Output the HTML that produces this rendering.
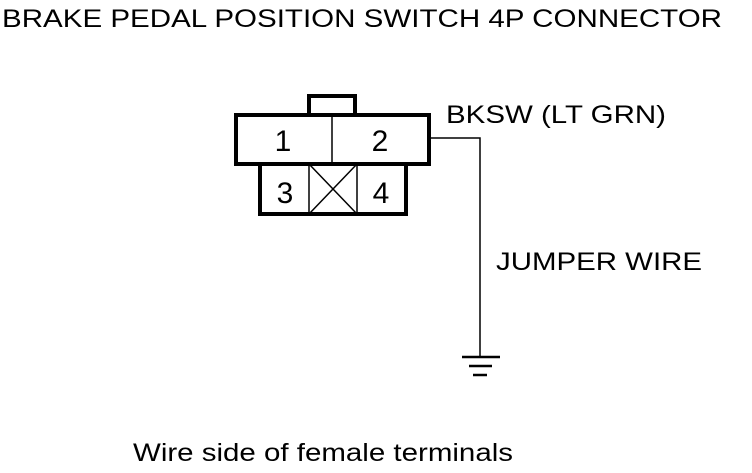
<!DOCTYPE html>
<html><head><style>
body{margin:0;background:#fff}
svg text{font-family:"Liberation Sans",sans-serif;fill:#000}
</style></head><body>
<svg width="752" height="468" viewBox="0 0 752 468" xmlns="http://www.w3.org/2000/svg">
<text x="2" y="27" font-size="25" textLength="720" lengthAdjust="spacingAndGlyphs">BRAKE PEDAL POSITION SWITCH 4P CONNECTOR</text>
<g fill="none" stroke="#000">
<rect x="309" y="96" width="46" height="19" stroke-width="4"/>
<rect x="236" y="115" width="193" height="49" stroke-width="4" fill="#fff"/>
<line x1="332" y1="115" x2="332" y2="164" stroke-width="1.5"/>
<path d="M260 164 V214 H406 V164" stroke-width="4"/>
<line x1="236" y1="164" x2="429" y2="164" stroke-width="1.5"/>
<line x1="309" y1="164" x2="309" y2="214" stroke-width="1.5"/>
<line x1="357" y1="164" x2="357" y2="214" stroke-width="1.5"/>
<line x1="309" y1="164" x2="357" y2="214" stroke-width="1.5"/>
<line x1="357" y1="164" x2="309" y2="214" stroke-width="1.5"/>
<path d="M429 138 H480 V357" stroke-width="1.5"/>
<line x1="462" y1="357" x2="500" y2="357" stroke-width="2.5"/>
<line x1="469" y1="366" x2="492" y2="366" stroke-width="2.5"/>
<line x1="473" y1="375" x2="487" y2="375" stroke-width="2.5"/>
</g>
<text x="283" y="151" font-size="30" text-anchor="middle" font-weight="300">1</text>
<text x="380" y="151" font-size="30" text-anchor="middle">2</text>
<text x="285" y="203" font-size="30" text-anchor="middle">3</text>
<text x="381" y="203" font-size="30" text-anchor="middle">4</text>
<text x="446" y="123" font-size="25" textLength="220" lengthAdjust="spacingAndGlyphs">BKSW (LT GRN)</text>
<text x="496" y="270" font-size="25" textLength="206" lengthAdjust="spacingAndGlyphs">JUMPER WIRE</text>
<text x="133" y="461" font-size="25" textLength="380" lengthAdjust="spacingAndGlyphs">Wire side of female terminals</text>
</svg>
</body></html>
